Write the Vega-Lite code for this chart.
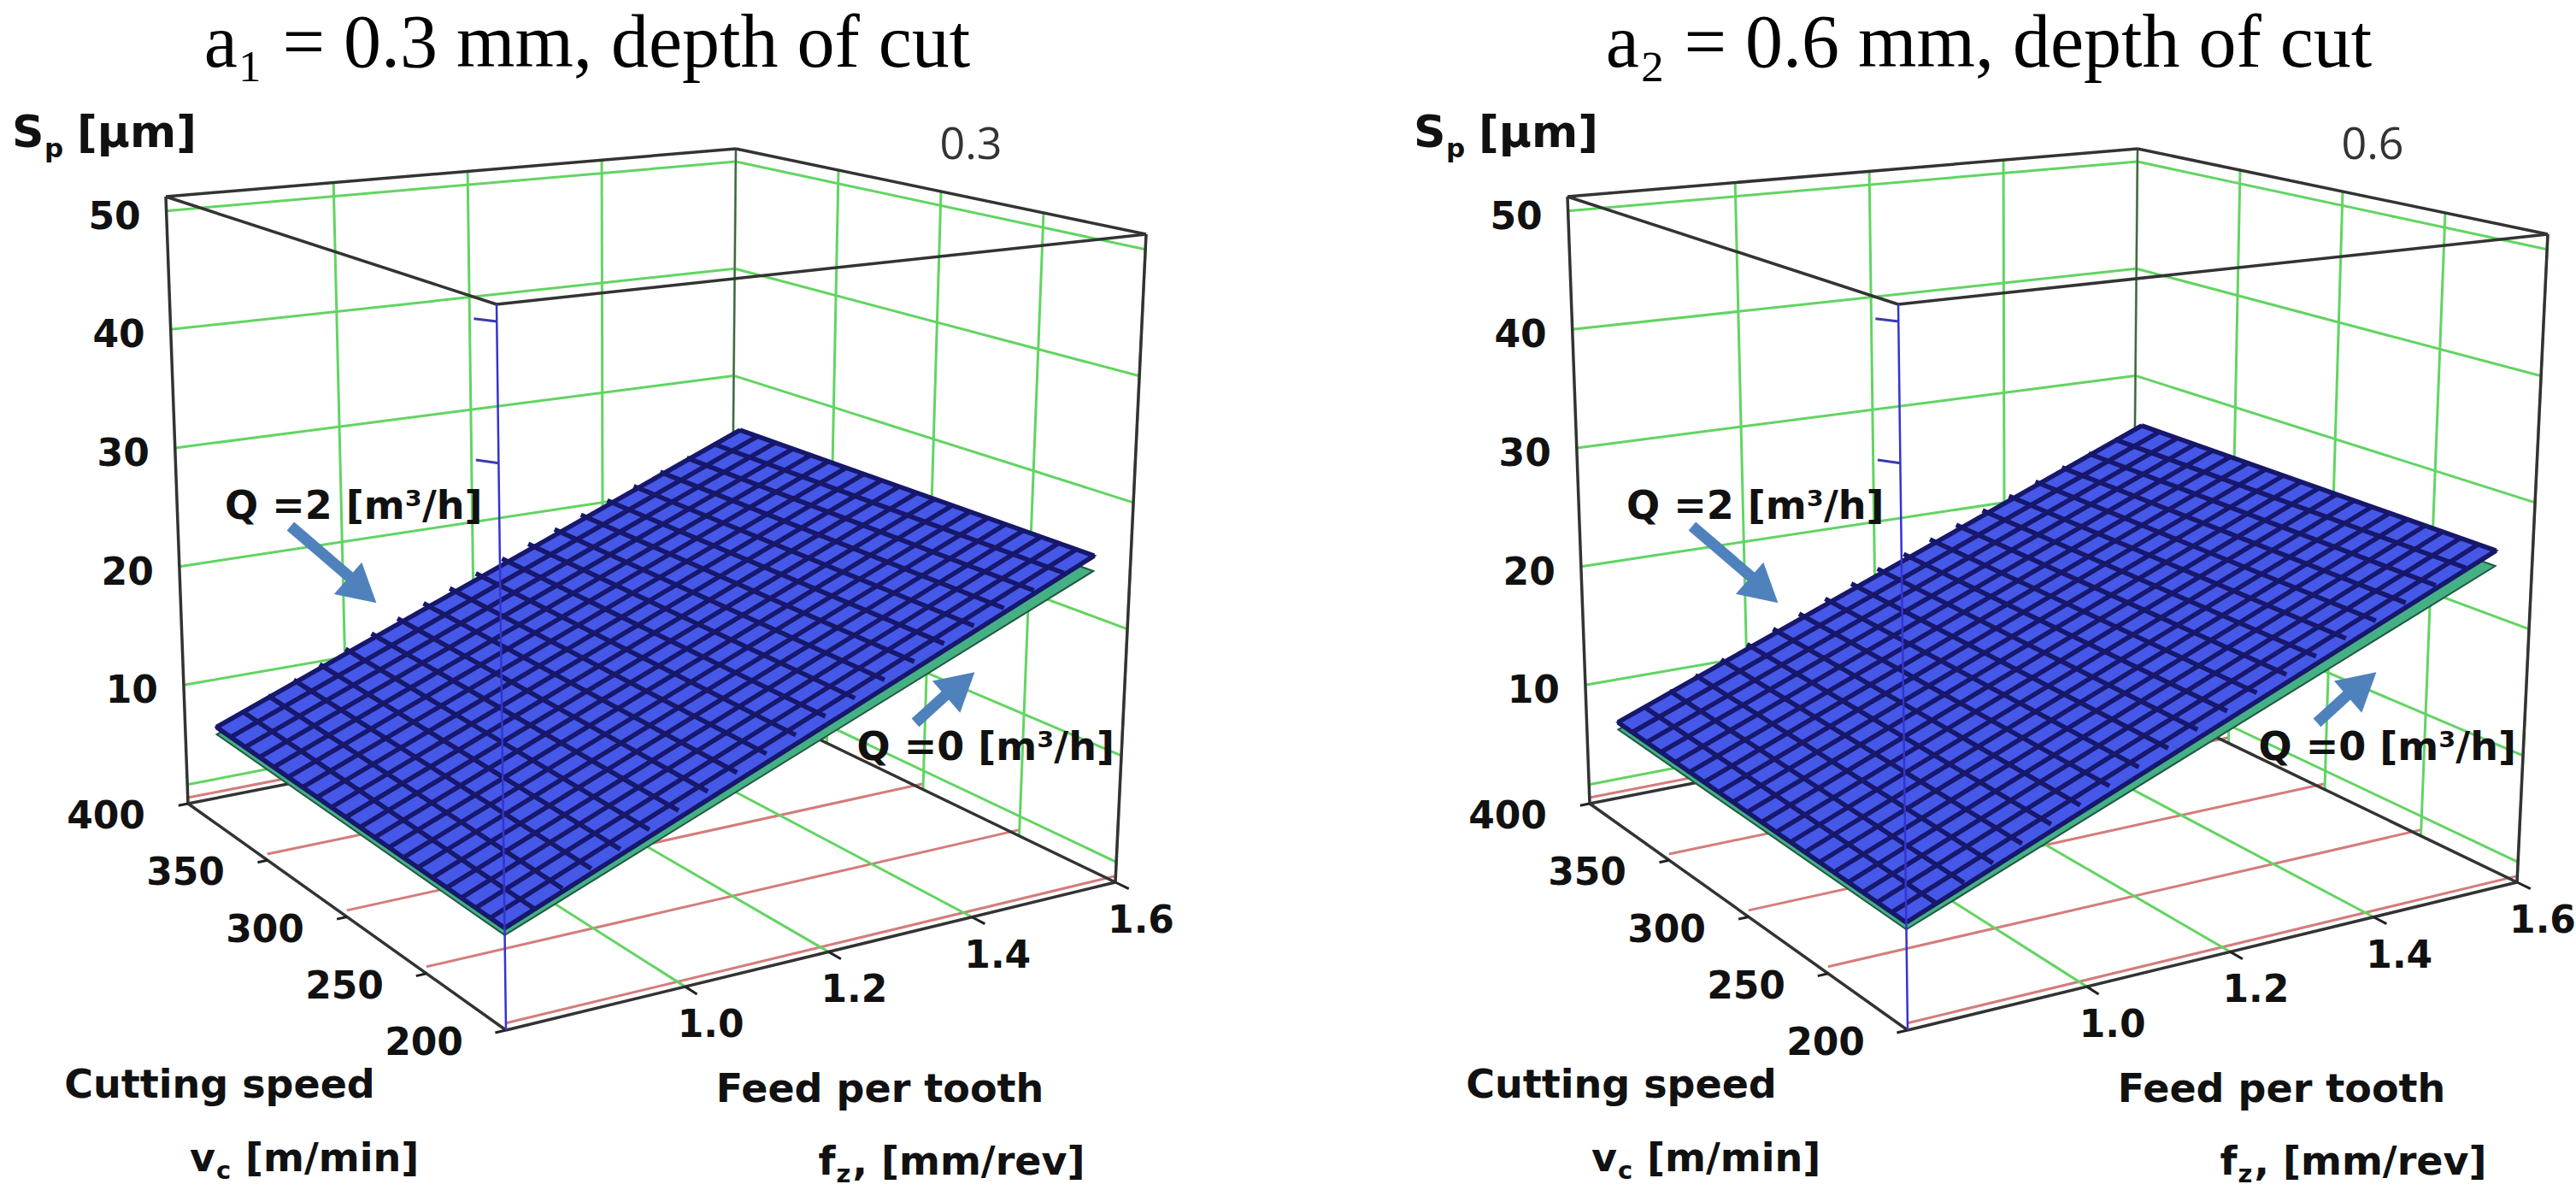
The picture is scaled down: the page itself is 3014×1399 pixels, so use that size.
{
  "$schema": "https://vega.github.io/schema/vega-lite/v6.json",
  "padding": {"top": 8, "left": 0, "right": 0, "bottom": 0},
  "autosize": {"type": "pad"},
  "background": "white",
  "config": {"view": {"stroke": null}, "text": {"font": "DejaVu Sans", "fontWeight": "bold", "color": "#111111"}},
  "data": {"values": [
    {"panel":["P1","P2"],"k":"red","vc":200,"fz":0.75,"sp":0.5,"vc2":200,"fz2":1.6,"sp2":0.5},
    {"panel":["P1","P2"],"k":"red","vc":250,"fz":0.75,"sp":0.5,"vc2":250,"fz2":1.6,"sp2":0.5},
    {"panel":["P1","P2"],"k":"red","vc":300,"fz":0.75,"sp":0.5,"vc2":300,"fz2":1.6,"sp2":0.5},
    {"panel":["P1","P2"],"k":"red","vc":350,"fz":0.75,"sp":0.5,"vc2":350,"fz2":1.6,"sp2":0.5},
    {"panel":["P1","P2"],"k":"red","vc":400,"fz":0.75,"sp":0.5,"vc2":400,"fz2":1.6,"sp2":0.5},
    {"panel":["P1","P2"],"k":"grn","vc":200,"fz":1.0,"sp":0,"vc2":400,"fz2":1.0,"sp2":0},
    {"panel":["P1","P2"],"k":"grn","vc":200,"fz":1.2,"sp":0,"vc2":400,"fz2":1.2,"sp2":0},
    {"panel":["P1","P2"],"k":"grn","vc":200,"fz":1.4,"sp":0,"vc2":400,"fz2":1.4,"sp2":0},
    {"panel":["P1","P2"],"k":"grn","vc":400,"fz":0.75,"sp":1.6,"vc2":400,"fz2":1.6,"sp2":1.6},
    {"panel":["P1","P2"],"k":"grn","vc":400,"fz":0.75,"sp":10,"vc2":400,"fz2":1.6,"sp2":10},
    {"panel":["P1","P2"],"k":"grn","vc":400,"fz":0.75,"sp":20,"vc2":400,"fz2":1.6,"sp2":20},
    {"panel":["P1","P2"],"k":"grn","vc":400,"fz":0.75,"sp":30,"vc2":400,"fz2":1.6,"sp2":30},
    {"panel":["P1","P2"],"k":"grn","vc":400,"fz":0.75,"sp":40,"vc2":400,"fz2":1.6,"sp2":40},
    {"panel":["P1","P2"],"k":"grn","vc":400,"fz":0.75,"sp":50,"vc2":400,"fz2":1.6,"sp2":50},
    {"panel":["P1","P2"],"k":"grn","vc":400,"fz":1.0,"sp":0,"vc2":400,"fz2":1.0,"sp2":51.2},
    {"panel":["P1","P2"],"k":"grn","vc":400,"fz":1.2,"sp":0,"vc2":400,"fz2":1.2,"sp2":51.2},
    {"panel":["P1","P2"],"k":"grn","vc":400,"fz":1.4,"sp":0,"vc2":400,"fz2":1.4,"sp2":51.2},
    {"panel":["P1","P2"],"k":"grn","vc":400,"fz":1.6,"sp":0,"vc2":400,"fz2":1.6,"sp2":51.2},
    {"panel":["P1","P2"],"k":"grn","vc":400,"fz":1.6,"sp":1.6,"vc2":200,"fz2":1.6,"sp2":1.6},
    {"panel":["P1","P2"],"k":"grn","vc":400,"fz":1.6,"sp":10,"vc2":200,"fz2":1.6,"sp2":10},
    {"panel":["P1","P2"],"k":"grn","vc":400,"fz":1.6,"sp":20,"vc2":200,"fz2":1.6,"sp2":20},
    {"panel":["P1","P2"],"k":"grn","vc":400,"fz":1.6,"sp":30,"vc2":200,"fz2":1.6,"sp2":30},
    {"panel":["P1","P2"],"k":"grn","vc":400,"fz":1.6,"sp":40,"vc2":200,"fz2":1.6,"sp2":40},
    {"panel":["P1","P2"],"k":"grn","vc":400,"fz":1.6,"sp":50,"vc2":200,"fz2":1.6,"sp2":50},
    {"panel":["P1","P2"],"k":"grn","vc":350,"fz":1.6,"sp":0,"vc2":350,"fz2":1.6,"sp2":51.2},
    {"panel":["P1","P2"],"k":"grn","vc":300,"fz":1.6,"sp":0,"vc2":300,"fz2":1.6,"sp2":51.2},
    {"panel":["P1","P2"],"k":"grn","vc":250,"fz":1.6,"sp":0,"vc2":250,"fz2":1.6,"sp2":51.2},
    {"panel":["P1","P2"],"k":"grn","vc":200,"fz":1.6,"sp":0,"vc2":200,"fz2":1.6,"sp2":51.2},
    {"panel":["P1","P2"],"k":"edgeb","vc":400,"fz":1.6,"sp":0,"vc2":400,"fz2":1.6,"sp2":51.2},
    {"panel":["P1","P2"],"k":"edge","vc":400,"fz":0.75,"sp":51.2,"vc2":400,"fz2":1.6,"sp2":51.2},
    {"panel":["P1","P2"],"k":"edge","vc":400,"fz":1.6,"sp":51.2,"vc2":200,"fz2":1.6,"sp2":51.2},
    {"panel":["P1","P2"],"k":"edge","vc":200,"fz":1.6,"sp":51.2,"vc2":200,"fz2":0.75,"sp2":51.2},
    {"panel":["P1","P2"],"k":"edge","vc":200,"fz":0.75,"sp":51.2,"vc2":400,"fz2":0.75,"sp2":51.2},
    {"panel":["P1","P2"],"k":"edge","vc":400,"fz":0.75,"sp":0,"vc2":400,"fz2":0.75,"sp2":51.2},
    {"panel":["P1","P2"],"k":"edge","vc":200,"fz":1.6,"sp":0,"vc2":200,"fz2":1.6,"sp2":51.2},
    {"panel":["P1","P2"],"k":"edge","vc":200,"fz":0.75,"sp":0,"vc2":400,"fz2":0.75,"sp2":0},
    {"panel":["P1","P2"],"k":"edge","vc":200,"fz":0.75,"sp":0,"vc2":200,"fz2":1.6,"sp2":0},
    {"panel":["P1","P2"],"k":"edge","vc":200,"fz":1.6,"sp":0,"vc2":400,"fz2":1.6,"sp2":0},
    {"panel":["P1","P2"],"k":"edge","vc":400,"fz":0.75,"sp":0,"vc2":400,"fz2":1.6,"sp2":0},
    {"panel":["P1","P2"],"k":"tick","vc":200,"fz":0.75,"sp":0,"vc2":200,"fz2":0.735,"sp2":0},
    {"panel":["P1","P2"],"k":"tick","vc":250,"fz":0.75,"sp":0,"vc2":250,"fz2":0.735,"sp2":0},
    {"panel":["P1","P2"],"k":"tick","vc":300,"fz":0.75,"sp":0,"vc2":300,"fz2":0.735,"sp2":0},
    {"panel":["P1","P2"],"k":"tick","vc":350,"fz":0.75,"sp":0,"vc2":350,"fz2":0.735,"sp2":0},
    {"panel":["P1","P2"],"k":"tick","vc":400,"fz":0.75,"sp":0,"vc2":400,"fz2":0.735,"sp2":0},
    {"panel":["P1","P2"],"k":"tick","vc":200,"fz":1.0,"sp":0,"vc2":193,"fz2":1.0,"sp2":0},
    {"panel":["P1","P2"],"k":"tick","vc":200,"fz":1.2,"sp":0,"vc2":193,"fz2":1.2,"sp2":0},
    {"panel":["P1","P2"],"k":"tick","vc":200,"fz":1.4,"sp":0,"vc2":193,"fz2":1.4,"sp2":0},
    {"panel":["P1","P2"],"k":"tick","vc":200,"fz":1.6,"sp":0,"vc2":193,"fz2":1.6,"sp2":0},
    {"panel":["P1","P2"],"k":"btick","vc":200,"fz":0.75,"sp":10,"vc2":207,"fz2":0.735,"sp2":10},
    {"panel":["P1","P2"],"k":"btick","vc":200,"fz":0.75,"sp":20,"vc2":207,"fz2":0.735,"sp2":20},
    {"panel":["P1","P2"],"k":"btick","vc":200,"fz":0.75,"sp":30,"vc2":207,"fz2":0.735,"sp2":30},
    {"panel":["P1","P2"],"k":"btick","vc":200,"fz":0.75,"sp":40,"vc2":207,"fz2":0.735,"sp2":40},
    {"panel":["P1","P2"],"k":"btick","vc":200,"fz":0.75,"sp":50,"vc2":207,"fz2":0.735,"sp2":50},
    {"panel":["P1","P2"],"k":"front","vc":200,"fz":0.75,"sp":0,"vc2":200,"fz2":0.75,"sp2":51.2},
    {"panel":["P1"],"k":"poly","pl":"q0","o":0,"vc":200,"fz":0.75,"sp":6.7},
    {"panel":["P1"],"k":"poly","pl":"q0","o":1,"vc":380,"fz":0.75,"sp":7.6},
    {"panel":["P1"],"k":"poly","pl":"q0","o":2,"vc":380,"fz":1.55,"sp":25.3},
    {"panel":["P1"],"k":"poly","pl":"q0","o":3,"vc":200,"fz":1.55,"sp":25.1},
    {"panel":["P1"],"k":"poly","pl":"q0","o":4,"vc":200,"fz":0.75,"sp":6.7},
    {"panel":["P1"],"k":"poly","pl":"q2","o":0,"vc":200,"fz":0.75,"sp":7.2},
    {"panel":["P1"],"k":"poly","pl":"q2","o":1,"vc":380,"fz":0.75,"sp":8.2},
    {"panel":["P1"],"k":"poly","pl":"q2","o":2,"vc":380,"fz":1.55,"sp":26.6},
    {"panel":["P1"],"k":"poly","pl":"q2","o":3,"vc":200,"fz":1.55,"sp":26.3},
    {"panel":["P1"],"k":"poly","pl":"q2","o":4,"vc":200,"fz":0.75,"sp":7.2},
    {"panel":["P2"],"k":"poly","pl":"q0","o":0,"vc":200,"fz":0.75,"sp":7.1},
    {"panel":["P2"],"k":"poly","pl":"q0","o":1,"vc":380,"fz":0.75,"sp":8.0},
    {"panel":["P2"],"k":"poly","pl":"q0","o":2,"vc":380,"fz":1.55,"sp":25.7},
    {"panel":["P2"],"k":"poly","pl":"q0","o":3,"vc":200,"fz":1.55,"sp":25.5},
    {"panel":["P2"],"k":"poly","pl":"q0","o":4,"vc":200,"fz":0.75,"sp":7.1},
    {"panel":["P2"],"k":"poly","pl":"q2","o":0,"vc":200,"fz":0.75,"sp":7.6},
    {"panel":["P2"],"k":"poly","pl":"q2","o":1,"vc":380,"fz":0.75,"sp":8.6},
    {"panel":["P2"],"k":"poly","pl":"q2","o":2,"vc":380,"fz":1.55,"sp":27.0},
    {"panel":["P2"],"k":"poly","pl":"q2","o":3,"vc":200,"fz":1.55,"sp":26.7},
    {"panel":["P2"],"k":"poly","pl":"q2","o":4,"vc":200,"fz":0.75,"sp":7.6},
    {"panel":["P1"],"k":"sg","vc":200,"fz":0.75,"sp":7.2,"vc2":200,"fz2":1.55,"sp2":26.3},
    {"panel":["P1"],"k":"sg","vc":209,"fz":0.75,"sp":7.25,"vc2":209,"fz2":1.55,"sp2":26.32},
    {"panel":["P1"],"k":"sg","vc":218,"fz":0.75,"sp":7.3,"vc2":218,"fz2":1.55,"sp2":26.33},
    {"panel":["P1"],"k":"sg","vc":227,"fz":0.75,"sp":7.35,"vc2":227,"fz2":1.55,"sp2":26.35},
    {"panel":["P1"],"k":"sg","vc":236,"fz":0.75,"sp":7.4,"vc2":236,"fz2":1.55,"sp2":26.36},
    {"panel":["P1"],"k":"sg","vc":245,"fz":0.75,"sp":7.45,"vc2":245,"fz2":1.55,"sp2":26.38},
    {"panel":["P1"],"k":"sg","vc":254,"fz":0.75,"sp":7.5,"vc2":254,"fz2":1.55,"sp2":26.39},
    {"panel":["P1"],"k":"sg","vc":263,"fz":0.75,"sp":7.55,"vc2":263,"fz2":1.55,"sp2":26.41},
    {"panel":["P1"],"k":"sg","vc":272,"fz":0.75,"sp":7.6,"vc2":272,"fz2":1.55,"sp2":26.42},
    {"panel":["P1"],"k":"sg","vc":281,"fz":0.75,"sp":7.65,"vc2":281,"fz2":1.55,"sp2":26.44},
    {"panel":["P1"],"k":"sg","vc":290,"fz":0.75,"sp":7.7,"vc2":290,"fz2":1.55,"sp2":26.45},
    {"panel":["P1"],"k":"sg","vc":299,"fz":0.75,"sp":7.75,"vc2":299,"fz2":1.55,"sp2":26.47},
    {"panel":["P1"],"k":"sg","vc":308,"fz":0.75,"sp":7.8,"vc2":308,"fz2":1.55,"sp2":26.48},
    {"panel":["P1"],"k":"sg","vc":317,"fz":0.75,"sp":7.85,"vc2":317,"fz2":1.55,"sp2":26.5},
    {"panel":["P1"],"k":"sg","vc":326,"fz":0.75,"sp":7.9,"vc2":326,"fz2":1.55,"sp2":26.51},
    {"panel":["P1"],"k":"sg","vc":335,"fz":0.75,"sp":7.95,"vc2":335,"fz2":1.55,"sp2":26.53},
    {"panel":["P1"],"k":"sg","vc":344,"fz":0.75,"sp":8.0,"vc2":344,"fz2":1.55,"sp2":26.54},
    {"panel":["P1"],"k":"sg","vc":353,"fz":0.75,"sp":8.05,"vc2":353,"fz2":1.55,"sp2":26.56},
    {"panel":["P1"],"k":"sg","vc":362,"fz":0.75,"sp":8.1,"vc2":362,"fz2":1.55,"sp2":26.57},
    {"panel":["P1"],"k":"sg","vc":371,"fz":0.75,"sp":8.15,"vc2":371,"fz2":1.55,"sp2":26.59},
    {"panel":["P1"],"k":"sg","vc":380,"fz":0.75,"sp":8.2,"vc2":380,"fz2":1.55,"sp2":26.6},
    {"panel":["P1"],"k":"sg","vc":200,"fz":0.75,"sp":7.2,"vc2":380,"fz2":0.75,"sp2":8.2},
    {"panel":["P1"],"k":"sg","vc":200,"fz":0.79,"sp":8.16,"vc2":380,"fz2":0.79,"sp2":9.12},
    {"panel":["P1"],"k":"sg","vc":200,"fz":0.83,"sp":9.11,"vc2":380,"fz2":0.83,"sp2":10.04},
    {"panel":["P1"],"k":"sg","vc":200,"fz":0.87,"sp":10.07,"vc2":380,"fz2":0.87,"sp2":10.96},
    {"panel":["P1"],"k":"sg","vc":200,"fz":0.91,"sp":11.02,"vc2":380,"fz2":0.91,"sp2":11.88},
    {"panel":["P1"],"k":"sg","vc":200,"fz":0.95,"sp":11.98,"vc2":380,"fz2":0.95,"sp2":12.8},
    {"panel":["P1"],"k":"sg","vc":200,"fz":0.99,"sp":12.93,"vc2":380,"fz2":0.99,"sp2":13.72},
    {"panel":["P1"],"k":"sg","vc":200,"fz":1.03,"sp":13.89,"vc2":380,"fz2":1.03,"sp2":14.64},
    {"panel":["P1"],"k":"sg","vc":200,"fz":1.07,"sp":14.84,"vc2":380,"fz2":1.07,"sp2":15.56},
    {"panel":["P1"],"k":"sg","vc":200,"fz":1.11,"sp":15.8,"vc2":380,"fz2":1.11,"sp2":16.48},
    {"panel":["P1"],"k":"sg","vc":200,"fz":1.15,"sp":16.75,"vc2":380,"fz2":1.15,"sp2":17.4},
    {"panel":["P1"],"k":"sg","vc":200,"fz":1.19,"sp":17.71,"vc2":380,"fz2":1.19,"sp2":18.32},
    {"panel":["P1"],"k":"sg","vc":200,"fz":1.23,"sp":18.66,"vc2":380,"fz2":1.23,"sp2":19.24},
    {"panel":["P1"],"k":"sg","vc":200,"fz":1.27,"sp":19.62,"vc2":380,"fz2":1.27,"sp2":20.16},
    {"panel":["P1"],"k":"sg","vc":200,"fz":1.31,"sp":20.57,"vc2":380,"fz2":1.31,"sp2":21.08},
    {"panel":["P1"],"k":"sg","vc":200,"fz":1.35,"sp":21.53,"vc2":380,"fz2":1.35,"sp2":22.0},
    {"panel":["P1"],"k":"sg","vc":200,"fz":1.39,"sp":22.48,"vc2":380,"fz2":1.39,"sp2":22.92},
    {"panel":["P1"],"k":"sg","vc":200,"fz":1.43,"sp":23.44,"vc2":380,"fz2":1.43,"sp2":23.84},
    {"panel":["P1"],"k":"sg","vc":200,"fz":1.47,"sp":24.39,"vc2":380,"fz2":1.47,"sp2":24.76},
    {"panel":["P1"],"k":"sg","vc":200,"fz":1.51,"sp":25.35,"vc2":380,"fz2":1.51,"sp2":25.68},
    {"panel":["P1"],"k":"sg","vc":200,"fz":1.55,"sp":26.3,"vc2":380,"fz2":1.55,"sp2":26.6},
    {"panel":["P2"],"k":"sg","vc":200,"fz":0.75,"sp":7.6,"vc2":200,"fz2":1.55,"sp2":26.7},
    {"panel":["P2"],"k":"sg","vc":209,"fz":0.75,"sp":7.65,"vc2":209,"fz2":1.55,"sp2":26.72},
    {"panel":["P2"],"k":"sg","vc":218,"fz":0.75,"sp":7.7,"vc2":218,"fz2":1.55,"sp2":26.73},
    {"panel":["P2"],"k":"sg","vc":227,"fz":0.75,"sp":7.75,"vc2":227,"fz2":1.55,"sp2":26.75},
    {"panel":["P2"],"k":"sg","vc":236,"fz":0.75,"sp":7.8,"vc2":236,"fz2":1.55,"sp2":26.76},
    {"panel":["P2"],"k":"sg","vc":245,"fz":0.75,"sp":7.85,"vc2":245,"fz2":1.55,"sp2":26.78},
    {"panel":["P2"],"k":"sg","vc":254,"fz":0.75,"sp":7.9,"vc2":254,"fz2":1.55,"sp2":26.79},
    {"panel":["P2"],"k":"sg","vc":263,"fz":0.75,"sp":7.95,"vc2":263,"fz2":1.55,"sp2":26.81},
    {"panel":["P2"],"k":"sg","vc":272,"fz":0.75,"sp":8.0,"vc2":272,"fz2":1.55,"sp2":26.82},
    {"panel":["P2"],"k":"sg","vc":281,"fz":0.75,"sp":8.05,"vc2":281,"fz2":1.55,"sp2":26.84},
    {"panel":["P2"],"k":"sg","vc":290,"fz":0.75,"sp":8.1,"vc2":290,"fz2":1.55,"sp2":26.85},
    {"panel":["P2"],"k":"sg","vc":299,"fz":0.75,"sp":8.15,"vc2":299,"fz2":1.55,"sp2":26.87},
    {"panel":["P2"],"k":"sg","vc":308,"fz":0.75,"sp":8.2,"vc2":308,"fz2":1.55,"sp2":26.88},
    {"panel":["P2"],"k":"sg","vc":317,"fz":0.75,"sp":8.25,"vc2":317,"fz2":1.55,"sp2":26.9},
    {"panel":["P2"],"k":"sg","vc":326,"fz":0.75,"sp":8.3,"vc2":326,"fz2":1.55,"sp2":26.91},
    {"panel":["P2"],"k":"sg","vc":335,"fz":0.75,"sp":8.35,"vc2":335,"fz2":1.55,"sp2":26.93},
    {"panel":["P2"],"k":"sg","vc":344,"fz":0.75,"sp":8.4,"vc2":344,"fz2":1.55,"sp2":26.94},
    {"panel":["P2"],"k":"sg","vc":353,"fz":0.75,"sp":8.45,"vc2":353,"fz2":1.55,"sp2":26.96},
    {"panel":["P2"],"k":"sg","vc":362,"fz":0.75,"sp":8.5,"vc2":362,"fz2":1.55,"sp2":26.97},
    {"panel":["P2"],"k":"sg","vc":371,"fz":0.75,"sp":8.55,"vc2":371,"fz2":1.55,"sp2":26.99},
    {"panel":["P2"],"k":"sg","vc":380,"fz":0.75,"sp":8.6,"vc2":380,"fz2":1.55,"sp2":27.0},
    {"panel":["P2"],"k":"sg","vc":200,"fz":0.75,"sp":7.6,"vc2":380,"fz2":0.75,"sp2":8.6},
    {"panel":["P2"],"k":"sg","vc":200,"fz":0.79,"sp":8.56,"vc2":380,"fz2":0.79,"sp2":9.52},
    {"panel":["P2"],"k":"sg","vc":200,"fz":0.83,"sp":9.51,"vc2":380,"fz2":0.83,"sp2":10.44},
    {"panel":["P2"],"k":"sg","vc":200,"fz":0.87,"sp":10.47,"vc2":380,"fz2":0.87,"sp2":11.36},
    {"panel":["P2"],"k":"sg","vc":200,"fz":0.91,"sp":11.42,"vc2":380,"fz2":0.91,"sp2":12.28},
    {"panel":["P2"],"k":"sg","vc":200,"fz":0.95,"sp":12.38,"vc2":380,"fz2":0.95,"sp2":13.2},
    {"panel":["P2"],"k":"sg","vc":200,"fz":0.99,"sp":13.33,"vc2":380,"fz2":0.99,"sp2":14.12},
    {"panel":["P2"],"k":"sg","vc":200,"fz":1.03,"sp":14.29,"vc2":380,"fz2":1.03,"sp2":15.04},
    {"panel":["P2"],"k":"sg","vc":200,"fz":1.07,"sp":15.24,"vc2":380,"fz2":1.07,"sp2":15.96},
    {"panel":["P2"],"k":"sg","vc":200,"fz":1.11,"sp":16.2,"vc2":380,"fz2":1.11,"sp2":16.88},
    {"panel":["P2"],"k":"sg","vc":200,"fz":1.15,"sp":17.15,"vc2":380,"fz2":1.15,"sp2":17.8},
    {"panel":["P2"],"k":"sg","vc":200,"fz":1.19,"sp":18.11,"vc2":380,"fz2":1.19,"sp2":18.72},
    {"panel":["P2"],"k":"sg","vc":200,"fz":1.23,"sp":19.06,"vc2":380,"fz2":1.23,"sp2":19.64},
    {"panel":["P2"],"k":"sg","vc":200,"fz":1.27,"sp":20.02,"vc2":380,"fz2":1.27,"sp2":20.56},
    {"panel":["P2"],"k":"sg","vc":200,"fz":1.31,"sp":20.97,"vc2":380,"fz2":1.31,"sp2":21.48},
    {"panel":["P2"],"k":"sg","vc":200,"fz":1.35,"sp":21.93,"vc2":380,"fz2":1.35,"sp2":22.4},
    {"panel":["P2"],"k":"sg","vc":200,"fz":1.39,"sp":22.88,"vc2":380,"fz2":1.39,"sp2":23.32},
    {"panel":["P2"],"k":"sg","vc":200,"fz":1.43,"sp":23.84,"vc2":380,"fz2":1.43,"sp2":24.24},
    {"panel":["P2"],"k":"sg","vc":200,"fz":1.47,"sp":24.79,"vc2":380,"fz2":1.47,"sp2":25.16},
    {"panel":["P2"],"k":"sg","vc":200,"fz":1.51,"sp":25.75,"vc2":380,"fz2":1.51,"sp2":26.08},
    {"panel":["P2"],"k":"sg","vc":200,"fz":1.55,"sp":26.7,"vc2":380,"fz2":1.55,"sp2":27.0},
    {"panel":["P1","P2"],"k":"arr","vc":329.4,"fz":0.75,"sp":28.2,"vc2":290.2,"fz2":0.75,"sp2":26.4},
    {"panel":["P1","P2"],"k":"arr","vc":200,"fz":1.3136,"sp":15.9,"vc2":200,"fz2":1.3696,"sp2":18.2},
    {"panel":["P1","P2"],"k":"h2","vc":277,"fz":0.75,"sp":25.6},
    {"panel":["P1","P2"],"k":"h0","vc":200,"fz":1.393,"sp":18.9},
    {"panel":["P1","P2"],"k":"lvc","t":"400","vc":400,"fz":0.75,"sp":0},
    {"panel":["P1","P2"],"k":"lvc","t":"350","vc":350,"fz":0.75,"sp":0},
    {"panel":["P1","P2"],"k":"lvc","t":"300","vc":300,"fz":0.75,"sp":0},
    {"panel":["P1","P2"],"k":"lvc","t":"250","vc":250,"fz":0.75,"sp":0},
    {"panel":["P1","P2"],"k":"lvc","t":"200","vc":200,"fz":0.75,"sp":0},
    {"panel":["P1","P2"],"k":"lfz","t":"1.0","vc":200,"fz":1.0,"sp":0},
    {"panel":["P1","P2"],"k":"lfz","t":"1.2","vc":200,"fz":1.2,"sp":0},
    {"panel":["P1","P2"],"k":"lfz","t":"1.4","vc":200,"fz":1.4,"sp":0},
    {"panel":["P1","P2"],"k":"lfz","t":"1.6","vc":200,"fz":1.6,"sp":0},
    {"panel":["P1","P2"],"k":"lsp","t":"10","vc":400,"fz":0.75,"sp":10},
    {"panel":["P1","P2"],"k":"lsp","t":"20","vc":400,"fz":0.75,"sp":20},
    {"panel":["P1","P2"],"k":"lsp","t":"30","vc":400,"fz":0.75,"sp":30},
    {"panel":["P1","P2"],"k":"lsp","t":"40","vc":400,"fz":0.75,"sp":40},
    {"panel":["P1","P2"],"k":"lsp","t":"50","vc":400,"fz":0.75,"sp":50},
    {"panel":["P1","P2"],"k":"t1","t":"Cutting speed","vc":300,"fz":0.75,"sp":0},
    {"panel":["P1","P2"],"k":"t2","t":"v","vc":300,"fz":0.75,"sp":0},
    {"panel":["P1","P2"],"k":"t3","t":"c","vc":300,"fz":0.75,"sp":0},
    {"panel":["P1","P2"],"k":"t4","t":"[m/min]","vc":300,"fz":0.75,"sp":0},
    {"panel":["P1","P2"],"k":"t5","t":"Feed per tooth","vc":200,"fz":1.2,"sp":0},
    {"panel":["P1","P2"],"k":"t6","t":"f","vc":200,"fz":1.2,"sp":0},
    {"panel":["P1","P2"],"k":"t7","t":"z","vc":200,"fz":1.2,"sp":0},
    {"panel":["P1","P2"],"k":"t8","t":", [mm/rev]","vc":200,"fz":1.2,"sp":0},
    {"panel":["P1","P2"],"k":"t9","t":"S","vc":400,"fz":0.75,"sp":51.2},
    {"panel":["P1","P2"],"k":"t10","t":"p","vc":400,"fz":0.75,"sp":51.2},
    {"panel":["P1","P2"],"k":"t11","t":"[µm]","vc":400,"fz":0.75,"sp":51.2},
    {"panel":["P1"],"k":"t12","t":"0.3","vc":285,"fz":1.6,"sp":51.2},
    {"panel":["P2"],"k":"t12","t":"0.6","vc":285,"fz":1.6,"sp":51.2},
    {"panel":["P1","P2"],"k":"q","t":"Q =2 [m³/h]","vc":290,"fz":0.75,"sp":31.2},
    {"panel":["P1","P2"],"k":"q","t":"Q =0 [m³/h]","vc":200,"fz":1.412,"sp":11.9}
  ]},
  "transform": [
    {"flatten": ["panel"]},
    {"calculate": "(datum.vc-200)/200", "as": "u"},
    {"calculate": "(datum.fz-0.75)/0.85", "as": "v"},
    {"calculate": "datum.sp/51.2", "as": "w"},
    {"calculate": "(1-datum.w)*((1-datum.u)*(1-datum.v)*592+datum.u*(1-datum.v)*220+(1-datum.u)*datum.v*1305+datum.u*datum.v*855)+datum.w*((1-datum.u)*(1-datum.v)*581+datum.u*(1-datum.v)*194+(1-datum.u)*datum.v*1341+datum.u*datum.v*861)", "as": "px"},
    {"calculate": "(1-datum.w)*((1-datum.u)*(1-datum.v)*1203+datum.u*(1-datum.v)*938+(1-datum.u)*datum.v*1030+datum.u*datum.v*813)+datum.w*((1-datum.u)*(1-datum.v)*354+datum.u*(1-datum.v)*228+(1-datum.u)*datum.v*272+datum.u*datum.v*172)", "as": "py"},
    {"calculate": "(datum.vc2-200)/200", "as": "u2"},
    {"calculate": "(datum.fz2-0.75)/0.85", "as": "v2"},
    {"calculate": "datum.sp2/51.2", "as": "w2"},
    {"calculate": "(1-datum.w2)*((1-datum.u2)*(1-datum.v2)*592+datum.u2*(1-datum.v2)*220+(1-datum.u2)*datum.v2*1305+datum.u2*datum.v2*855)+datum.w2*((1-datum.u2)*(1-datum.v2)*581+datum.u2*(1-datum.v2)*194+(1-datum.u2)*datum.v2*1341+datum.u2*datum.v2*861)", "as": "px2"},
    {"calculate": "(1-datum.w2)*((1-datum.u2)*(1-datum.v2)*1203+datum.u2*(1-datum.v2)*938+(1-datum.u2)*datum.v2*1030+datum.u2*datum.v2*813)+datum.w2*((1-datum.u2)*(1-datum.v2)*354+datum.u2*(1-datum.v2)*228+(1-datum.u2)*datum.v2*272+datum.u2*datum.v2*172)", "as": "py2"}
  ],
  "facet": {"column": {"field": "panel", "type": "nominal", "title": null,
    "header": {"labelExpr": "datum.value == 'P1' ? 'a₁ = 0.3 mm, depth of cut' : 'a₂ = 0.6 mm, depth of cut'",
      "labelFont": "Liberation Serif", "labelFontWeight": "normal", "labelFontSize": 88, "labelColor": "#000000", "labelPadding": 30, "labelBaseline": "alphabetic"}}},
  "spacing": {"column": 266},
  "bounds": "flush",
  "spec": {
    "width": 1374,
    "height": 1205,
    "encoding": {
      "x": {"field": "px", "type": "quantitative", "scale": {"domain": [0, 1374], "nice": false, "zero": false}, "axis": null},
      "y": {"field": "py", "type": "quantitative", "scale": {"domain": [1399, 194], "nice": false, "zero": false}, "axis": null}
    },
    "layer": [
      {"transform": [{"filter": "datum.k == 'red'"}], "mark": {"type": "rule", "color": "#d47c7c", "strokeWidth": 3}, "encoding": {"x2": {"field": "px2"}, "y2": {"field": "py2"}}},
      {"transform": [{"filter": "datum.k == 'grn'"}], "mark": {"type": "rule", "color": "#62d462", "strokeWidth": 3}, "encoding": {"x2": {"field": "px2"}, "y2": {"field": "py2"}}},
      {"transform": [{"filter": "datum.k == 'edgeb'"}], "mark": {"type": "rule", "color": "#555555", "strokeWidth": 2}, "encoding": {"x2": {"field": "px2"}, "y2": {"field": "py2"}}},
      {"transform": [{"filter": "datum.k == 'edge'"}], "mark": {"type": "rule", "color": "#333333", "strokeWidth": 3.5}, "encoding": {"x2": {"field": "px2"}, "y2": {"field": "py2"}}},
      {"transform": [{"filter": "datum.k == 'tick'"}], "mark": {"type": "rule", "color": "#222222", "strokeWidth": 3}, "encoding": {"x2": {"field": "px2"}, "y2": {"field": "py2"}}},
      {"transform": [{"filter": "datum.k == 'btick'"}], "mark": {"type": "rule", "color": "#3a3ab0", "strokeWidth": 3}, "encoding": {"x2": {"field": "px2"}, "y2": {"field": "py2"}}},
      {"transform": [{"filter": "datum.k == 'poly' && datum.pl == 'q0'"}], "mark": {"type": "line", "fill": "#45b083", "stroke": "#1f5a44", "strokeWidth": 2}, "encoding": {"order": {"field": "o", "type": "quantitative"}}},
      {"transform": [{"filter": "datum.k == 'poly' && datum.pl == 'q2'"}], "mark": {"type": "line", "fill": "#4558e8", "stroke": "#1a1a6e", "strokeWidth": 3}, "encoding": {"order": {"field": "o", "type": "quantitative"}}},
      {"transform": [{"filter": "datum.k == 'sg'"}], "mark": {"type": "rule", "color": "#17176c", "strokeWidth": 5.5}, "encoding": {"x2": {"field": "px2"}, "y2": {"field": "py2"}}},
      {"transform": [{"filter": "datum.k == 'front'"}], "mark": {"type": "rule", "color": "#3434d0", "strokeWidth": 2.5}, "encoding": {"x2": {"field": "px2"}, "y2": {"field": "py2"}}},
      {"transform": [{"filter": "datum.k == 'arr'"}], "mark": {"type": "rule", "color": "#4f81bd", "strokeWidth": 13}, "encoding": {"x2": {"field": "px2"}, "y2": {"field": "py2"}}},
      {"transform": [{"filter": "datum.k == 'h2'"}], "mark": {"type": "point", "shape": "M0,0L0.95,1.7L-0.95,1.7Z", "size": 2700, "filled": true, "color": "#4f81bd", "opacity": 1, "strokeWidth": 0, "angle": 131}},
      {"transform": [{"filter": "datum.k == 'h0'"}], "mark": {"type": "point", "shape": "M0,0L0.95,1.7L-0.95,1.7Z", "size": 2700, "filled": true, "color": "#4f81bd", "opacity": 1, "strokeWidth": 0, "angle": 49}},
      {"transform": [{"filter": "datum.k == 'lvc'"}], "mark": {"type": "text", "fontSize": 44, "align": "right", "baseline": "middle", "dx": -50, "dy": 16}, "encoding": {"text": {"field": "t"}}},
      {"transform": [{"filter": "datum.k == 'lfz'"}], "mark": {"type": "text", "fontSize": 44, "align": "center", "baseline": "middle", "dx": 30, "dy": 46}, "encoding": {"text": {"field": "t"}}},
      {"transform": [{"filter": "datum.k == 'lsp'"}], "mark": {"type": "text", "fontSize": 44, "align": "right", "baseline": "middle", "dx": -30, "dy": 8}, "encoding": {"text": {"field": "t"}}},
      {"transform": [{"filter": "datum.k == 't1'"}], "mark": {"type": "text", "fontSize": 46, "align": "center", "baseline": "alphabetic", "dx": -149, "dy": 211}, "encoding": {"text": {"field": "t"}}},
      {"transform": [{"filter": "datum.k == 't2'"}], "mark": {"type": "text", "fontSize": 46, "align": "left", "baseline": "alphabetic", "dx": -184, "dy": 297}, "encoding": {"text": {"field": "t"}}},
      {"transform": [{"filter": "datum.k == 't3'"}], "mark": {"type": "text", "fontSize": 29, "align": "left", "baseline": "alphabetic", "dx": -153, "dy": 306}, "encoding": {"text": {"field": "t"}}},
      {"transform": [{"filter": "datum.k == 't4'"}], "mark": {"type": "text", "fontSize": 46, "align": "left", "baseline": "alphabetic", "dx": -119, "dy": 297}, "encoding": {"text": {"field": "t"}}},
      {"transform": [{"filter": "datum.k == 't5'"}], "mark": {"type": "text", "fontSize": 46, "align": "center", "baseline": "alphabetic", "dx": 60, "dy": 176}, "encoding": {"text": {"field": "t"}}},
      {"transform": [{"filter": "datum.k == 't6'"}], "mark": {"type": "text", "fontSize": 46, "align": "left", "baseline": "alphabetic", "dx": -12, "dy": 261}, "encoding": {"text": {"field": "t"}}},
      {"transform": [{"filter": "datum.k == 't7'"}], "mark": {"type": "text", "fontSize": 29, "align": "left", "baseline": "alphabetic", "dx": 9, "dy": 270}, "encoding": {"text": {"field": "t"}}},
      {"transform": [{"filter": "datum.k == 't8'"}], "mark": {"type": "text", "fontSize": 46, "align": "left", "baseline": "alphabetic", "dx": 28, "dy": 261}, "encoding": {"text": {"field": "t"}}},
      {"transform": [{"filter": "datum.k == 't9'"}], "mark": {"type": "text", "fontSize": 52, "align": "left", "baseline": "alphabetic", "dx": -180, "dy": -58}, "encoding": {"text": {"field": "t"}}},
      {"transform": [{"filter": "datum.k == 't10'"}], "mark": {"type": "text", "fontSize": 31, "align": "left", "baseline": "alphabetic", "dx": -142, "dy": -46}, "encoding": {"text": {"field": "t"}}},
      {"transform": [{"filter": "datum.k == 't11'"}], "mark": {"type": "text", "fontSize": 52, "align": "left", "baseline": "alphabetic", "dx": -104, "dy": -58}, "encoding": {"text": {"field": "t"}}},
      {"transform": [{"filter": "datum.k == 't12'"}], "mark": {"type": "text", "font": "Open Sans", "fontWeight": "normal", "fontSize": 52, "color": "#333333", "align": "center", "baseline": "alphabetic", "dx": -1, "dy": -46}, "encoding": {"text": {"field": "t"}}},
      {"transform": [{"filter": "datum.k == 'q'"}], "mark": {"type": "text", "fontSize": 46, "align": "center", "baseline": "alphabetic"}, "encoding": {"text": {"field": "t"}}}
    ]
  }
}
